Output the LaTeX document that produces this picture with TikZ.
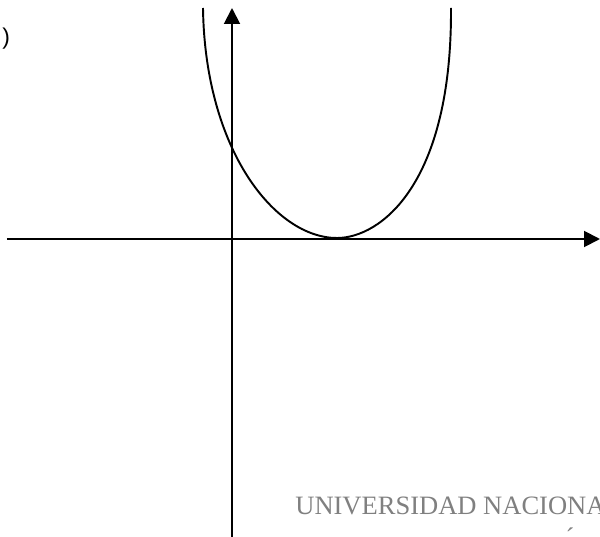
\documentclass[tikz,border=0pt]{standalone}
\usepackage{fontspec}
\setmainfont{Liberation Serif}
\newfontfamily\labelfont{Liberation Sans}
\usetikzlibrary{arrows.meta}

\tikzset{
  axis/.style={line width=1.1pt, -{Triangle[length=9pt, width=9pt]}},
  curve/.style={line width=1.1pt},
}

\begin{document}
\begin{tikzpicture}[x=0.02cm, y=-0.02cm]
    \clip (0,0) rectangle (600,537);
    \fill[white] (0,0) rectangle (600,537);
    \coordinate (XL) at (7,239);
    \coordinate (XR) at (600,239);
    \coordinate (YB) at (232,537);
    \coordinate (YT) at (232,8);
    \coordinate (PL) at (203,8);
    \coordinate (V) at (337,238);
    \coordinate (PR) at (451,8);
    \draw[axis] (XL) -- (XR);
    \draw[axis] (YB) -- (YT);
    \draw[curve] (PL) .. controls (205,150) and (275,238) .. (V)
        .. controls (380,238) and (452,185) .. (PR);
    \node[font=\labelfont\fontsize{13}{13}\selectfont, anchor=west, inner sep=0pt] (paren) at (2,39) {)};
    \node[font=\fontsize{15.1}{16}\selectfont, text=black!50, anchor=base west, inner sep=0pt] (univ) at (295,515) {UNIVERSIDAD NACIONAL};
    \node[font=\fontsize{15.1}{16}\selectfont, text=black!50, anchor=base, inner sep=0pt] (acc) at (570,552) {\'{}};
\end{tikzpicture}
\end{document}
